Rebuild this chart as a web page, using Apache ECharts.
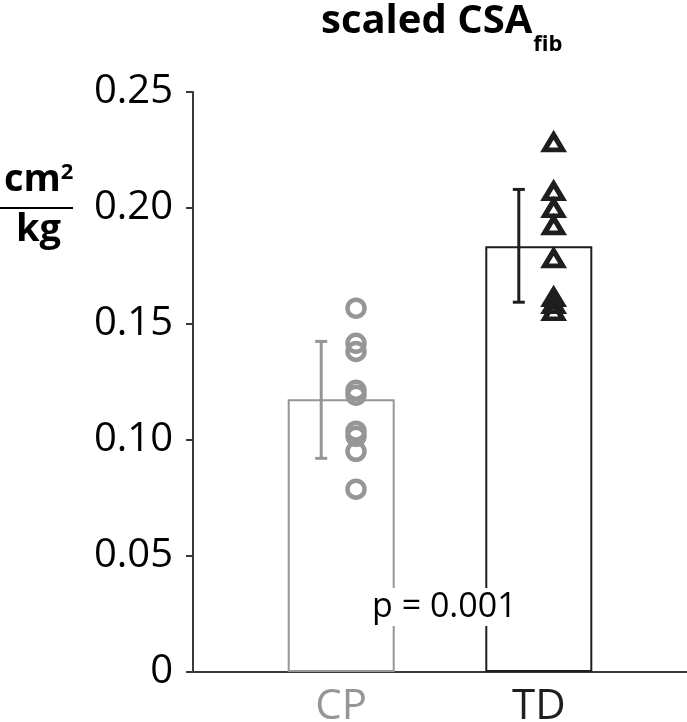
<!DOCTYPE html>
<html>
<head>
<meta charset="utf-8">
<script src="https://cdn.jsdelivr.net/npm/echarts@6/dist/echarts.min.js"></script>
<style>html,body{margin:0;padding:0;background:#fff}#c{width:687px;height:722px}</style>
</head>
<body>
<div id="c"></div>
<script>
const categories = ['CP', 'TD'];
const barMeans = [0.1176, 0.1835];
const errLow = [0.0921, 0.1594];
const errHigh = [0.1425, 0.2080];
const cpPoints = [0.1568, 0.1417, 0.1382, 0.1214, 0.1193, 0.1038, 0.1016, 0.0951, 0.0788];
const tdPoints = [0.2283, 0.2072, 0.1999, 0.1925, 0.1783, 0.1615, 0.1585, 0.1555];
const yTicks = [0, 0.05, 0.10, 0.15, 0.20, 0.25];
const pText = 'p = 0.001';

const GRAY = '#969696', BLACK = '#1e1e1e', AXIS = '#3a3a3a';
const colors = [GRAY, BLACK];
const FONT = 'Open Sans';
const catPos = categories.map((c, i) => i + 1);
const JIT = 0.075;

const chart = echarts.init(document.getElementById('c'));
chart.setOption({
  animation: false,
  backgroundColor: '#fff',
  grid: { left: 193, right: 0, top: 92, bottom: 50, containLabel: false, outerBoundsMode: 'none' },
  xAxis: {
    type: 'value', min: 0.25, max: 2.75,
    splitLine: { show: false },
    axisLine: { show: true, lineStyle: { color: AXIS, width: 2 } },
    axisTick: { show: false },
    axisLabel: {
      customValues: catPos,
      margin: 14,
      formatter: v => { const i = Math.round(v) - 1; return '{c' + i + '|' + categories[i] + '}'; },
      rich: {
        c0: { color: GRAY, fontSize: 42, fontFamily: FONT },
        c1: { color: BLACK, fontSize: 42, fontFamily: FONT }
      }
    }
  },
  yAxis: {
    type: 'value', min: 0, max: 0.25, interval: 0.05,
    splitLine: { show: false },
    axisLine: { show: true, lineStyle: { color: AXIS, width: 2 } },
    axisTick: { show: true, length: 7, lineStyle: { color: AXIS, width: 2 } },
    axisLabel: {
      margin: 20, color: '#000', fontSize: 40, fontFamily: FONT,
      formatter: v => { const t = yTicks.find(x => Math.abs(x - v) < 1e-9); return t === 0 ? '0' : t.toFixed(2); }
    }
  },
  series: [
    {
      type: 'bar', barWidth: 107, z: 1,
      data: barMeans.map((v, i) => ({ value: [catPos[i], v], itemStyle: { color: '#fff', borderColor: colors[i], borderWidth: 2 } }))
    },
    {
      type: 'custom', z: 5,
      data: categories.map((c, i) => [catPos[i], errLow[i], errHigh[i], i]),
      renderItem: (params, api) => {
        const lo = api.coord([api.value(0), api.value(1)]);
        const hi = api.coord([api.value(0), api.value(2)]);
        const x = lo[0] - 20, cw = 6;
        const col = colors[api.value(3)];
        const st = { stroke: col, lineWidth: 3 };
        return { type: 'group', children: [
          { type: 'line', shape: { x1: x, y1: lo[1], x2: x, y2: hi[1] }, style: st },
          { type: 'line', shape: { x1: x - cw, y1: lo[1], x2: x + cw, y2: lo[1] }, style: st },
          { type: 'line', shape: { x1: x - cw, y1: hi[1], x2: x + cw, y2: hi[1] }, style: st }
        ]};
      }
    },
    {
      type: 'scatter', z: 6, symbol: 'circle', symbolSize: 17,
      itemStyle: { color: 'rgba(0,0,0,0)', borderColor: GRAY, borderWidth: 4.5, opacity: 1 },
      data: cpPoints.map(v => [catPos[0] + JIT, v])
    },
    {
      type: 'scatter', z: 6, symbol: 'triangle', symbolSize: [18, 15],
      itemStyle: { color: 'rgba(0,0,0,0)', borderColor: BLACK, borderWidth: 5, opacity: 1 },
      data: tdPoints.map(v => [catPos[1] + JIT, v])
    }
  ],
  graphic: [
    { type: 'text', z: 100, left: 321, top: 2,
      style: { text: '{a|scaled CSA}{b|fib}', rich: {
        a: { fontFamily: FONT, fontWeight: 'bold', fontSize: 40, fill: '#000', lineHeight: 50, verticalAlign: 'bottom' },
        b: { fontFamily: FONT, fontWeight: 'bold', fontSize: 22, fill: '#000', lineHeight: 30, padding: [0,0,-14,1], verticalAlign: 'bottom' } } } },
    { type: 'text', z: 100, left: 4, top: 161,
      style: { text: '{a|cm}{s|2}', rich: {
        a: { fontFamily: FONT, fontWeight: 'bold', fontSize: 38, fill: '#000' },
        s: { fontFamily: FONT, fontWeight: 'bold', fontSize: 22, fill: '#000', padding: [0,0,14,0] } } } },
    { type: 'line', z: 100, shape: { x1: 0, y1: 208, x2: 73, y2: 208 }, style: { stroke: '#000', lineWidth: 2 } },
    { type: 'text', z: 100, left: 16, top: 211,
      style: { text: 'kg', fontFamily: FONT, fontWeight: 'bold', fontSize: 38, fill: '#000' } },
    { type: 'text', z: 100, left: 370, top: 588,
      style: { text: pText, fontFamily: FONT, fontSize: 34, fill: '#000', backgroundColor: '#fff', padding: [2, 2, 2, 2] } }
  ]
});
</script>
</body>
</html>
